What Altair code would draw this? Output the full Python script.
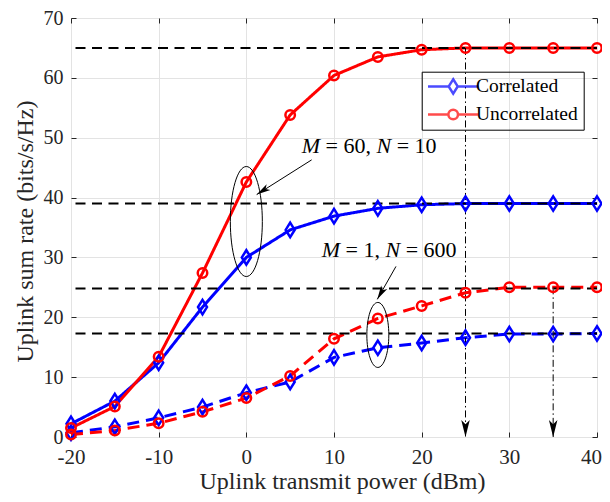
import math
import altair as alt
import pandas as pd

# ---------------- data ----------------
power = [-20, -15, -10, -5, 0, 5, 10, 15, 20, 25, 30, 35, 40]
corr_m60 = [2.2, 6.0, 12.4, 21.7, 30.0, 34.6, 36.9, 38.2, 38.8, 39.0, 39.0, 39.0, 39.0]
uncorr_m60 = [1.5, 5.1, 13.4, 27.4, 42.6, 53.8, 60.4, 63.5, 64.7, 65.0, 65.0, 65.0, 65.0]
corr_m1 = [0.7, 1.7, 3.2, 5.0, 7.4, 9.2, 13.3, 14.9, 15.7, 16.6, 17.2, 17.2, 17.3]
uncorr_m1 = [0.4, 1.1, 2.3, 4.2, 6.5, 10.2, 16.4, 19.8, 21.9, 24.1, 25.0, 25.0, 25.0]

series_types = ["Correlated", "Uncorrelated"]
series_colors = ["#0000FF", "#FF0000"]
configs = ["M60", "M1"]

x_ticks = [-20, -10, 0, 10, 20, 30, 40]
y_ticks = [0, 10, 20, 30, 40, 50, 60, 70]

ref_levels = [65, 39, 24.8, 17.3]
drop_x = [25, 35]
drop_top = [65, 25]
drop_bottom = [0, 0]

ellipse_x = [0, 15]
ellipse_y = [36.0, 17.05]
ellipse_h_px = [110, 65]
ellipse_w_px = [32, 22]

arrow_x1 = [7.45, 17.07]
arrow_y1 = [46.3, 28.5]
arrow_x2 = [1.18, 14.94]
arrow_y2 = [40.5, 23.0]

label_x = [6.32, 8.6]
label_y = [47.4, 30.0]
label_parts = [["M", "= 60,", "N", "= 10"], ["M", "= 1,", "N", "= 600"]]
label_dx = [[0, 23.8, 74.7, 94.9], [0, 23.8, 63.7, 83.9]]
label_italic = [True, False, True, False]

# ---------------- layout ----------------
W, H = 526, 419
TOP = 10
FONT = "Liberation Serif"
GRAY = "#262626"

rows = []
for t, cfg, vals in [("Correlated", "M60", corr_m60), ("Uncorrelated", "M60", uncorr_m60),
                     ("Correlated", "M1", corr_m1), ("Uncorrelated", "M1", uncorr_m1)]:
    for p, v in zip(power, vals):
        rows.append({"power": p, "rate": v, "ctype": t, "cfg": cfg})
df = pd.DataFrame(rows)

xscale = alt.Scale(domain=[-20, 40], nice=False, zero=False)
yscale = alt.Scale(domain=[0, 70], nice=False, zero=False)
color_scale = alt.Scale(domain=series_types, range=series_colors)
dash_scale = alt.Scale(domain=configs, range=[[1, 0], [12, 7]])

main_x_axis = alt.Axis(values=x_ticks, title="Uplink transmit power (dBm)", grid=True, ticks=False,
                       domain=False, labelExpr="'' + datum.value", labelFont=FONT, labelFontSize=21,
                       labelColor=GRAY, labelPadding=9, labelFlush=False,
                       labelOffset={"condition": {"test": "datum.value == 40", "value": -6}, "value": 0},
                       titleFont=FONT, titleFontSize=24, titleFontWeight="normal", titleColor=GRAY,
                       titleBaseline="middle", titleY=44, titleX=271, gridColor="#e3e3e3",
                       gridWidth=1, offset=0, orient="bottom")
main_y_axis = alt.Axis(values=y_ticks, title="Uplink sum rate (bits/s/Hz)", grid=True, ticks=False,
                       domain=False, labelFont=FONT, labelFontSize=20, labelColor=GRAY,
                       labelPadding=8, labelFlush=False, titleFont=FONT, titleFontSize=24,
                       titleFontWeight="normal", titleColor=GRAY, titleBaseline="middle",
                       titleX=-46, titleY=213, titleAngle=-90, gridColor="#e3e3e3",
                       gridWidth=1, offset=0, orient="left")


def tick_axis(orient, vals):
    return alt.Axis(orient=orient, offset=-5, values=vals, labels=False, ticks=True, tickSize=5,
                    tickColor=GRAY, tickWidth=1, domain=False, grid=False, title=None)


def line_layer(t, col, xaxis=None, yaxis=None):
    return alt.Chart(df).transform_filter(alt.datum.ctype == t).mark_line(
        strokeWidth=3, color=col
    ).encode(
        x=alt.X("power:Q", scale=xscale, axis=xaxis),
        y=alt.Y("rate:Q", scale=yscale, axis=yaxis),
        strokeDash=alt.StrokeDash("cfg:N", scale=dash_scale, legend=None),
    )


lines_blue = line_layer("Correlated", "#0000FF", main_x_axis, main_y_axis)
lines_red = line_layer("Uncorrelated", "#FF0000")

refs = alt.Chart(pd.DataFrame({"level": ref_levels})).mark_rule(
    color="black", strokeWidth=2, strokeDash=[10, 6.5]
).encode(y=alt.Y("level:Q", scale=yscale, axis=None))

drops = alt.Chart(pd.DataFrame({"x": drop_x, "top": drop_top, "bot": drop_bottom})).mark_rule(
    color="black", strokeWidth=1, strokeDash=[7, 3, 1.5, 3]
).encode(x=alt.X("x:Q", scale=xscale, axis=None), y=alt.Y("top:Q", scale=yscale, axis=None),
         y2="bot:Q")

diamond_path = "M0,-1.2L0.75,0L0,1.2L-0.75,0Z"
diamonds = alt.Chart(df).transform_filter(alt.datum.ctype == "Correlated").mark_point(
    shape=diamond_path, filled=False, size=144, strokeWidth=2.5, color="#0000FF", opacity=1
).encode(x=alt.X("power:Q", scale=xscale, axis=tick_axis("bottom", x_ticks)),
         y=alt.Y("rate:Q", scale=yscale, axis=tick_axis("left", y_ticks)))

circles = alt.Chart(df).transform_filter(alt.datum.ctype == "Uncorrelated").mark_point(
    shape="circle", filled=False, size=90, strokeWidth=2.5, color="#FF0000", opacity=1
).encode(x=alt.X("power:Q", scale=xscale, axis=tick_axis("top", x_ticks)),
         y=alt.Y("rate:Q", scale=yscale, axis=tick_axis("right", y_ticks)))

ellipses = []
for ex, ey, ew, eh in zip(ellipse_x, ellipse_y, ellipse_w_px, ellipse_h_px):
    r = ew / eh
    path = "M0,-1A{r:.3f},1 0 1,1 0,1A{r:.3f},1 0 1,1 0,-1Z".format(r=r)
    ellipses.append(alt.Chart(pd.DataFrame({"x": [ex], "y": [ey]})).mark_point(
        shape=path, size=eh * eh, filled=False, color="black", strokeWidth=1, opacity=1
    ).encode(x=alt.X("x:Q", scale=xscale, axis=None), y=alt.Y("y:Q", scale=yscale, axis=None)))

arr_df = pd.DataFrame({"x1": arrow_x1, "y1": arrow_y1, "x2": arrow_x2, "y2": arrow_y2})
arrow_lines = alt.Chart(arr_df).mark_rule(color="black", strokeWidth=1).encode(
    x=alt.X("x1:Q", scale=xscale, axis=None), y=alt.Y("y1:Q", scale=yscale, axis=None),
    x2="x2:Q", y2="y2:Q")

head_path = "M0,0L0.5,2L0,1.5L-0.5,2Z"
head_x = list(arrow_x2) + list(drop_x)
head_y = list(arrow_y2) + list(drop_bottom)
head_angle = []
for a, b, c, d in zip(arrow_x1, arrow_y1, arrow_x2, arrow_y2):
    dxp = (c - a) * W / 60.0
    dyp = -(d - b) * H / 70.0
    head_angle.append(math.degrees(math.atan2(dxp, -dyp)) % 360)
head_angle += [180, 180]
head_size = [196, 196, 289, 289]
heads = alt.Chart(pd.DataFrame({"x": head_x, "y": head_y, "angle": head_angle, "size": head_size})).mark_point(
    shape=head_path, filled=True, color="black", opacity=1, strokeWidth=0.5
).encode(x=alt.X("x:Q", scale=xscale, axis=None), y=alt.Y("y:Q", scale=yscale, axis=None),
         angle=alt.Angle("angle:Q", scale=None), size=alt.Size("size:Q", scale=None, legend=None))

texts = []
for li in range(2):
    for pi in range(4):
        tdf = pd.DataFrame({"x": [label_x[li]], "y": [label_y[li]], "t": [label_parts[li][pi]]})
        texts.append(alt.Chart(tdf).mark_text(
            font=FONT, fontSize=22, fontStyle="italic" if label_italic[pi] else "normal",
            align="left", baseline="alphabetic", dx=label_dx[li][pi], color="black"
        ).encode(x=alt.X("x:Q", scale=xscale, axis=None), y=alt.Y("y:Q", scale=yscale, axis=None),
                 text="t:N"))

leg_diamond = "M-4.2,0L-0.75,0M0.75,0L4.2,0M0,-1.2L0.75,0L0,1.2L-0.75,0Z"
leg_circle = "M-4.2,0L-0.8,0M0.8,0L4.2,0M-0.8,0A0.8,0.8 0 1,1 0.8,0A0.8,0.8 0 1,1 -0.8,0Z"
legend_def = alt.Legend(orient="none", legendX=350.7, legendY=71.7 - 8 - TOP, title=None,
                        labelFont=FONT, labelFontSize=19.5, labelColor="black", symbolSize=144,
                        symbolStrokeWidth=2.5, symbolOffset=16.75, labelOffset=13, padding=5,
                        rowPadding=5, strokeColor="black", symbolFillColor="transparent",
                        labelExpr="datum.label + '\u00a0\u00a0\u00a0'")
legend_layer = alt.Chart(df).transform_filter("false").mark_point(filled=False, strokeWidth=2.5).encode(
    x=alt.X("power:Q", scale=xscale, axis=None), y=alt.Y("rate:Q", scale=yscale, axis=None),
    color=alt.Color("ctype:N", scale=color_scale, legend=legend_def),
    shape=alt.Shape("ctype:N", scale=alt.Scale(domain=series_types, range=[leg_diamond, leg_circle]),
                    legend=legend_def),
)

chart = alt.layer(lines_blue, lines_red, refs, drops, diamonds, circles, *ellipses, arrow_lines, heads,
                  *texts, legend_layer).resolve_axis(x="independent", y="independent").properties(
    width=W, height=H, autosize=alt.AutoSizeParams(type="none"),
    padding={"left": 63, "top": TOP, "right": 5, "bottom": 57},
).configure_view(stroke=GRAY, strokeWidth=1).configure(font=FONT)

chart.save("out.html", embed_options={"renderer": "svg", "actions": False})
